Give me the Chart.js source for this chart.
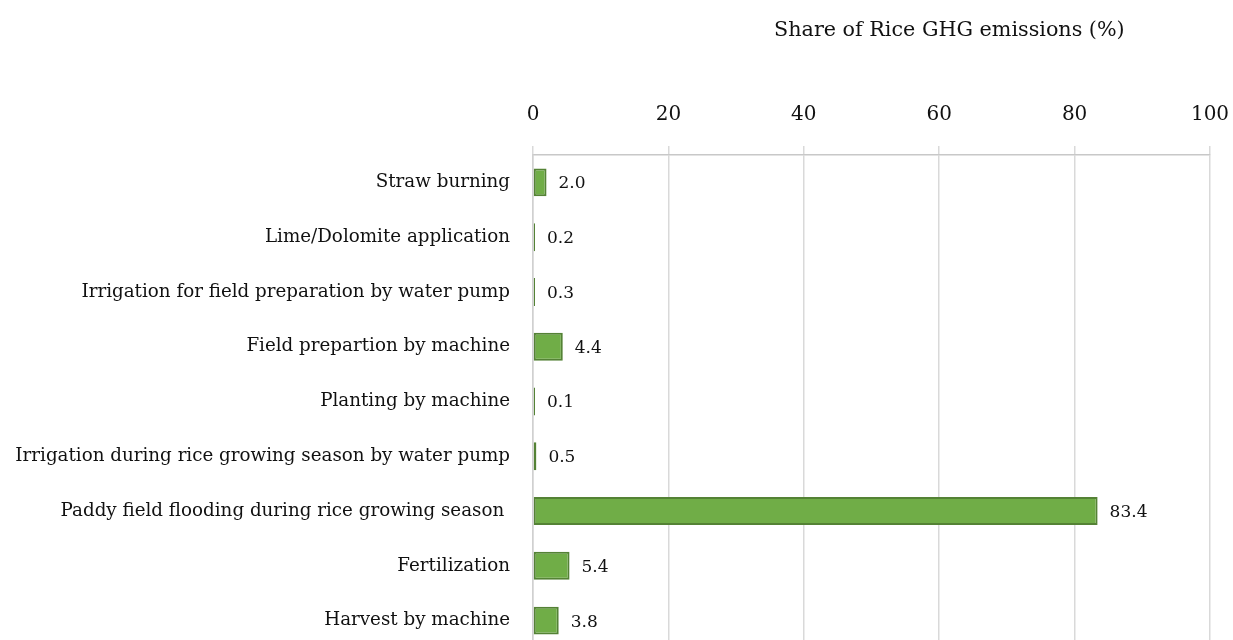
<!DOCTYPE html>
<html>
<head>
<meta charset="utf-8">
<script src="https://cdn.jsdelivr.net/npm/chart.js@4"></script>
<style>
html,body{margin:0;padding:0;background:#fff;overflow:hidden;}
canvas{display:block;}
</style>
</head>
<body>
<canvas id="c" width="1233" height="660" style="width:1233px;height:660px"></canvas>
<script>
const categories = [
  "Straw burning",
  "Lime/Dolomite application",
  "Irrigation for field preparation by water pump",
  "Field prepartion by machine",
  "Planting by machine",
  "Irrigation during rice growing season by water pump",
  "Paddy field flooding during rice growing season ",
  "Fertilization",
  "Harvest by machine"
];
const shares = [2.0, 0.2, 0.3, 4.4, 0.1, 0.5, 83.4, 5.4, 3.8];
const xTicks = [0, 20, 40, 60, 80, 100];
const axisTitle = "Share of Rice GHG emissions (%)";

const FONT = "'DejaVu Serif', serif";

const valueLabels = {
  id: 'valueLabels',
  afterDatasetsDraw(chart) {
    const ctx = chart.ctx;
    const meta = chart.getDatasetMeta(0);
    ctx.save();
    ctx.font = "17px " + FONT;
    ctx.fillStyle = "#111";
    ctx.textAlign = "left";
    ctx.textBaseline = "middle";
    meta.data.forEach((bar, i) => {
      ctx.fillText(shares[i].toFixed(1), bar.x + 12, bar.y + 1.5);
    });
    ctx.restore();
  }
};

const topTitle = {
  id: 'topTitle',
  afterDraw(chart) {
    const ctx = chart.ctx;
    const a = chart.chartArea;
    ctx.save();
    ctx.font = "20.7px " + FONT;
    ctx.fillStyle = "#111";
    ctx.textAlign = "center";
    ctx.textBaseline = "middle";
    ctx.fillText(axisTitle, a.left + (a.right - a.left) * 0.615, 31);
    ctx.restore();
  }
};

new Chart(document.getElementById('c'), {
  type: 'bar',
  data: {
    labels: categories,
    datasets: [{
      data: shares,
      backgroundColor: '#70AD47',
      borderColor: '#548235',
      borderWidth: 2,
      borderSkipped: false,
      minBarLength: 2,
      barPercentage: 0.85,
      categoryPercentage: 0.6
    }]
  },
  options: {
    indexAxis: 'y',
    responsive: false,
    animation: false,
    layout: { padding: { left: 0, right: 23, top: 84, bottom: 12 } },
    plugins: {
      legend: { display: false },
      tooltip: { enabled: false }
    },
    scales: {
      x: {
        position: 'top',
        min: 0,
        max: 100,
        afterBuildTicks(scale) { scale.ticks = xTicks.map(v => ({ value: v })); },
        afterFit(scale) { scale.paddingLeft = 0; scale.paddingRight = 0; },
        ticks: {
          font: { family: FONT, size: 20 },
          color: '#111',
          padding: 19
        },
        grid: {
          color: '#d9d9d9',
          lineWidth: 1.5,
          tickLength: 9,
          drawTicks: true
        },
        border: { display: true, color: '#c8c8c8', width: 1.5 }
      },
      y: {
        afterFit(scale) { scale.width = 533; scale.paddingTop = 0; scale.paddingBottom = 0; },
        ticks: {
          font: { family: FONT, size: 18.3 },
          color: '#111',
          padding: 23
        },
        grid: { display: false, drawTicks: false },
        border: { display: true, color: '#d0d0d0', width: 1.5 }
      }
    }
  },
  plugins: [valueLabels, topTitle]
});
</script>
</body>
</html>
